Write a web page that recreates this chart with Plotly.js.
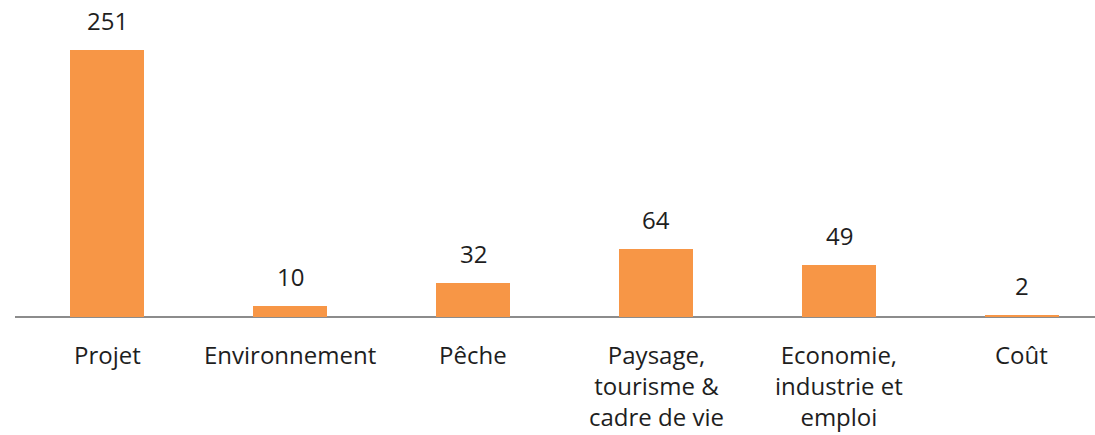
<!DOCTYPE html>
<html>
<head>
<meta charset="utf-8">
<script src="https://cdn.plot.ly/plotly-3.0.1.min.js"></script>
<style>
  html, body { margin: 0; padding: 0; background: #ffffff; }
  #chart { width: 1095px; height: 435px; }
</style>
</head>
<body>
<div id="chart"></div>
<script>
// Categories (line breaks as drawn under the axis) and counts
const categories = ["Projet", "Environnement", "Pêche", "Paysage,<br>tourisme &amp;<br>cadre de vie", "Economie,<br>industrie et<br>emploi", "Coût"];
const counts = [251, 10, 32, 64, 49, 2];

const barColor = "#F79646";
const textColor = "#1e1e1e";
const fontFamily = "'Open Sans', 'Noto Sans', sans-serif";

const idx = categories.map((_, i) => i);

const trace = {
  type: "bar",
  x: idx,
  y: counts,
  width: 0.4,
  marker: { color: barColor, line: { width: 0 } },
  hoverinfo: "skip"
};

// Value labels above each bar
const valueNotes = counts.map((v, i) => ({
  x: i, y: v, xref: "x", yref: "y",
  text: String(v),
  showarrow: false,
  yanchor: "bottom",
  yshift: 11,
  font: { family: fontFamily, size: 24, color: textColor }
}));

// Category labels below the axis
const catNotes = categories.map((c, i) => ({
  x: i, y: 0, xref: "x", yref: "paper",
  text: c,
  showarrow: false,
  yanchor: "top",
  yshift: -19,
  align: "center",
  font: { family: fontFamily, size: 24, color: textColor }
}));

const layout = {
  width: 1095,
  height: 435,
  margin: { l: 15, r: 0, t: 0, b: 118 },
  paper_bgcolor: "#ffffff",
  plot_bgcolor: "#ffffff",
  showlegend: false,
  bargap: 0,
  xaxis: {
    range: [-0.503, 5.399],
    showticklabels: false,
    ticks: "",
    showgrid: false,
    zeroline: false,
    showline: false
  },
  yaxis: {
    range: [0, 298],
    showticklabels: false,
    ticks: "",
    showgrid: false,
    zeroline: true,
    zerolinecolor: "#8c8c8c",
    zerolinewidth: 1.5,
    showline: false
  },
  annotations: valueNotes.concat(catNotes)
};

Plotly.newPlot("chart", [trace], layout, { displayModeBar: false, staticPlot: true });
</script>
</body>
</html>
